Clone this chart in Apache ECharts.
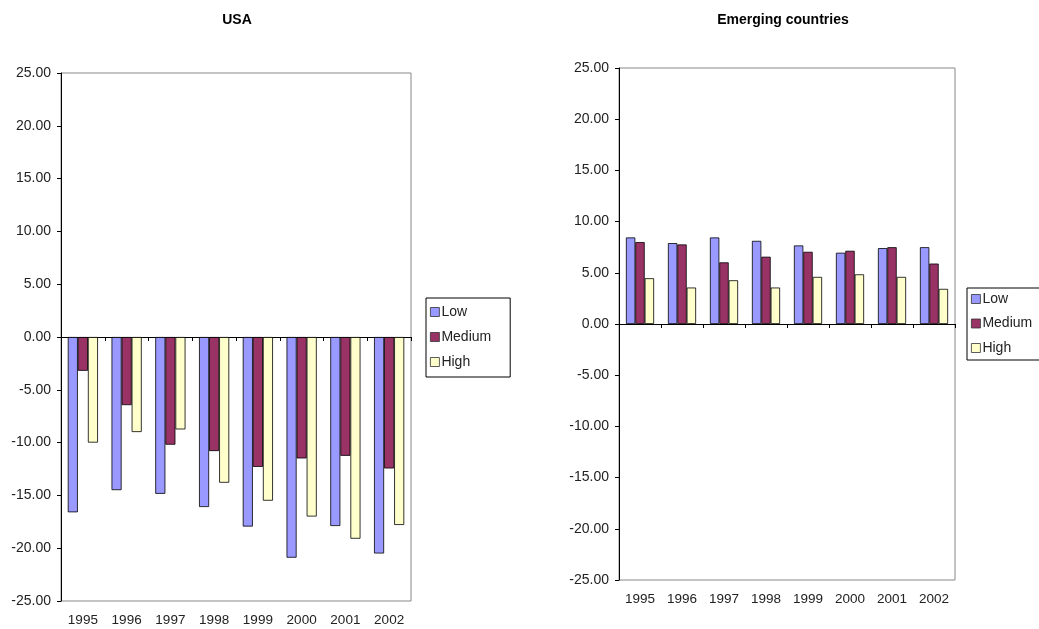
<!DOCTYPE html>
<html><head><meta charset="utf-8">
<script src="https://cdn.jsdelivr.net/npm/echarts@6/dist/echarts.min.js"></script>
<style>html,body{margin:0;padding:0;background:#fff}#c{width:1039px;height:629px}</style>
</head><body><div id="c"></div>
<script>
const years = ['1995','1996','1997','1998','1999','2000','2001','2002'];
const usaLow = [-16.6, -14.5, -14.85, -16.1, -17.95, -20.9, -17.9, -20.5];
const usaMedium = [-3.2, -6.45, -10.2, -10.8, -12.3, -11.5, -11.25, -12.45];
const usaHigh = [-10.0, -9.0, -8.75, -13.8, -15.5, -17.0, -19.1, -17.8];
const emLow = [8.45, 7.9, 8.45, 8.12, 7.67, 6.96, 7.41, 7.5];
const emMedium = [8.0, 7.77, 6.02, 6.57, 7.05, 7.15, 7.5, 5.9];
const emHigh = [4.47, 3.56, 4.27, 3.56, 4.6, 4.85, 4.6, 3.43];
const seriesNames = ['Low','Medium','High'];
const colors = ['#9999FF','#993366','#FFFFCC'];

const font = 'Liberation Sans, Arial, sans-serif';
const chart = echarts.init(document.getElementById('c'));

function yAx(gi){
  return {gridIndex:gi, type:'value', min:-25, max:25, interval:5,
    axisLine:{show:true, lineStyle:{color:'#000', width:1}},
    axisTick:{show:true, length:4, lineStyle:{color:'#000'}},
    splitLine:{show:false},
    axisLabel:{formatter:v=>v.toFixed(2), color:'#222', fontFamily:font, fontSize:14, margin:10}};
}
function xLabels(gi){
  return {gridIndex:gi, type:'category', data:years, position:'bottom',
    axisLine:{show:false, onZero:false}, axisTick:{show:false},
    axisLabel:{color:'#222', fontFamily:font, fontSize:13.5, margin:12}};
}
function xZero(gi){
  return {gridIndex:gi, type:'category', data:years, position:'bottom',
    axisLine:{show:true, onZero:true, lineStyle:{color:'#000', width:1}},
    axisTick:{show:true, length:4, inside:false, lineStyle:{color:'#000'}},
    axisLabel:{show:false}};
}
function legend(left, top, pad, gap){
  return {orient:'vertical', left:left, top:top, data:seriesNames,
    borderColor:'#000', borderWidth:1, padding:pad,
    itemWidth:9, itemHeight:9, itemGap:gap, icon:'rect',
    itemStyle:{borderColor:'#333', borderWidth:0.8},
    textStyle:{color:'#222', fontFamily:font, fontSize:14, padding:[0,0,0,-3]}};
}
function bars(gi, arrs, cat){
  return arrs.map((d,i)=>({name:seriesNames[i], type:'bar', xAxisIndex:gi*2, yAxisIndex:gi, data:d,
    barGap:'0%', barCategoryGap:cat,
    itemStyle:{color:colors[i], borderColor:'#000', borderWidth:0.8}}));
}

chart.setOption({
  animation:false,
  backgroundColor:'#fff',
  title:[
    {text:'USA', left:232, top:8, textAlign:'center', textStyle:{fontFamily:font, fontSize:14, fontWeight:'bold', color:'#000'}},
    {text:'Emerging countries', left:778, top:8, textAlign:'center', textStyle:{fontFamily:font, fontSize:14, fontWeight:'bold', color:'#000'}}
  ],
  grid:[
    {left:61, top:73, width:350, height:528, show:true, borderColor:'#888', borderWidth:1},
    {left:619, top:68, width:336, height:512, show:true, borderColor:'#888', borderWidth:1}
  ],
  legend:[legend(426,298,[7,19,8,4],11), legend(967,288,[4,19,5,4],10.5)],
  xAxis:[xLabels(0), xZero(0), xLabels(1), xZero(1)],
  yAxis:[yAx(0), yAx(1)],
  series:[...bars(0,[usaLow,usaMedium,usaHigh],'31%'), ...bars(1,[emLow,emMedium,emHigh],'33%')]
});
</script></body></html>
